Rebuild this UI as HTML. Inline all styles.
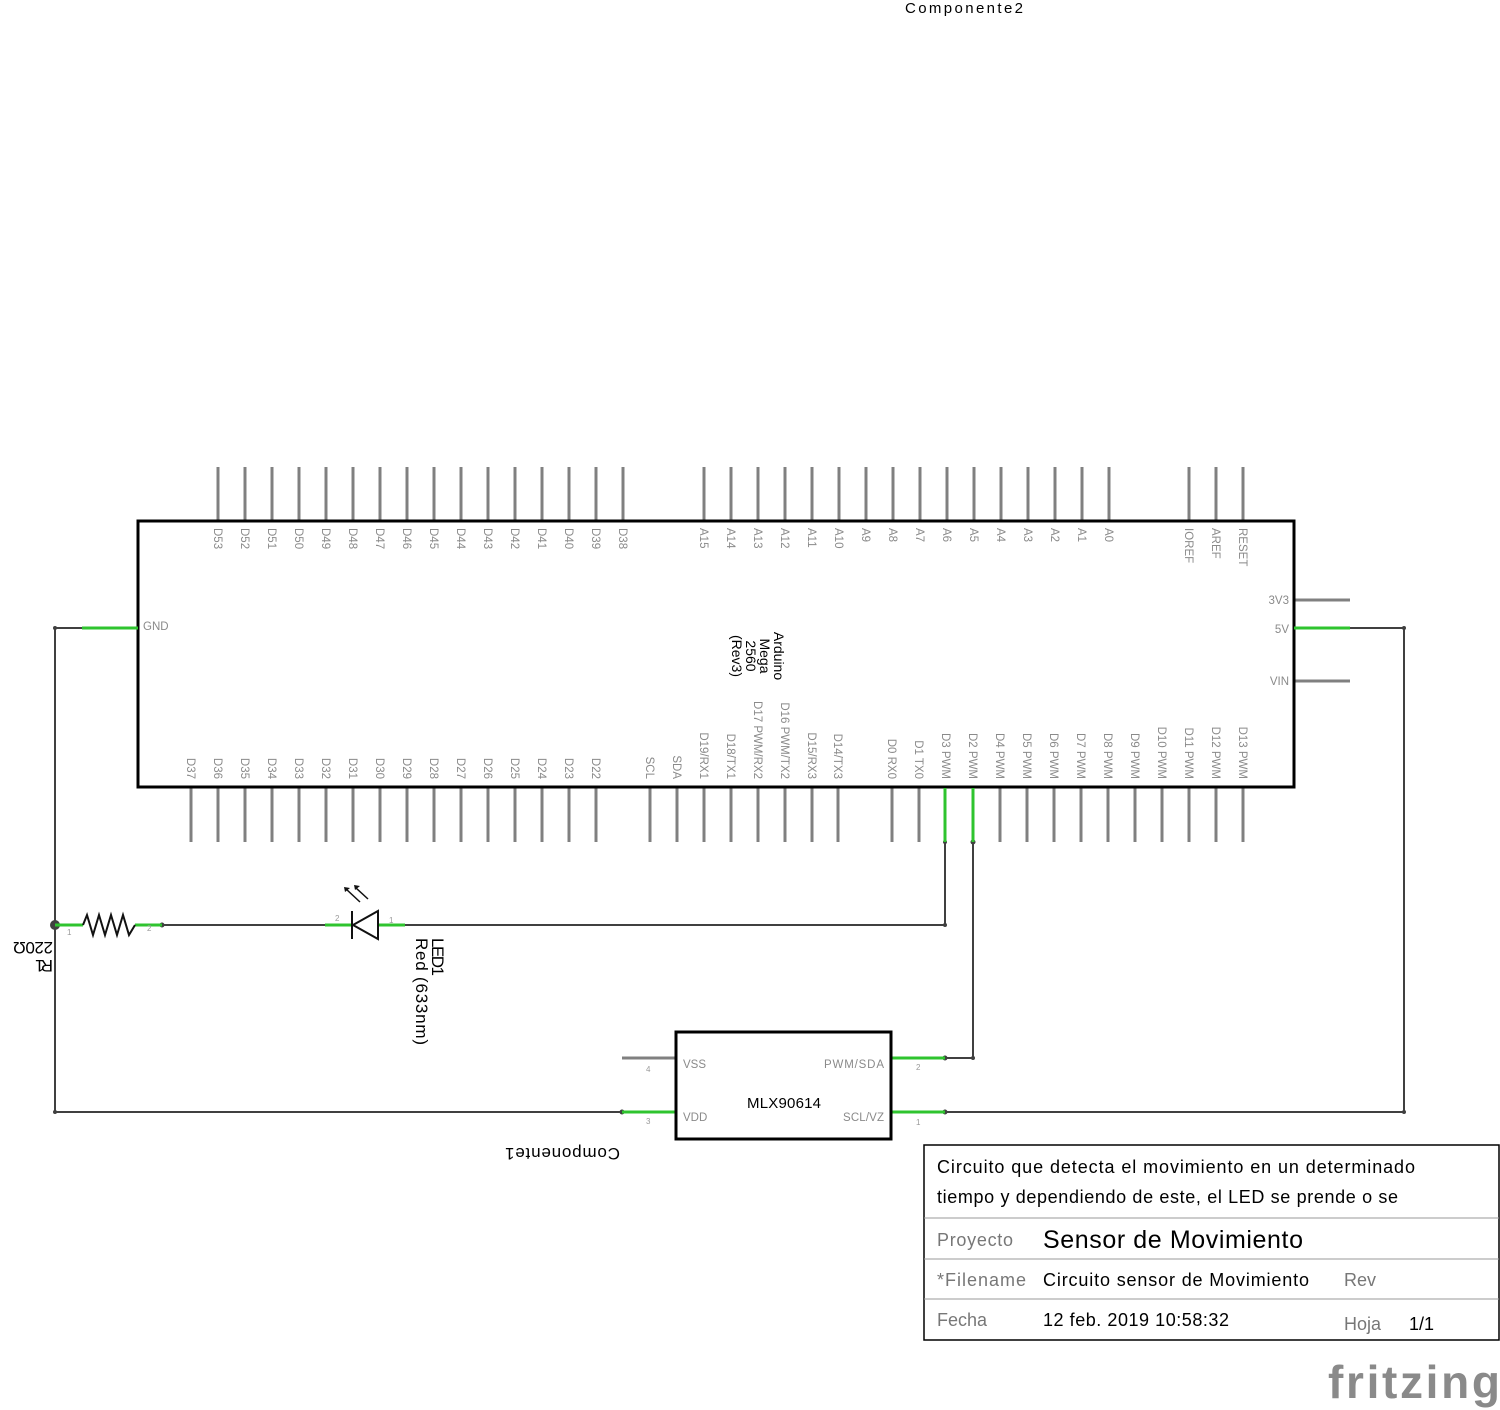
<!DOCTYPE html>
<html><head><meta charset="utf-8"><style>
body{margin:0;background:#fff}
svg{display:block;font-family:"Liberation Sans",sans-serif}
.p{stroke:#808080;stroke-width:3}
.l{font-size:11.5px;fill:#8a8a8a}
.w{stroke:#404040;stroke-width:2;fill:none}
.g{stroke:#2fc42f;stroke-width:3}
</style></head><body>
<svg width="1500" height="1410" viewBox="0 0 1500 1410">
<text x="905" y="13" font-size="15" textLength="118">Componente2</text>
<g class="p">
<path d="M218 467V521M245 467V521M272 467V521M299 467V521M326 467V521M353 467V521M380 467V521M407 467V521M434 467V521M461 467V521M488 467V521M515 467V521M542 467V521M569 467V521M596 467V521M623 467V521"/>
<path d="M704 467V521M731 467V521M758 467V521M785 467V521M812 467V521M839 467V521M866 467V521M893 467V521M920 467V521M947 467V521M974 467V521M1001 467V521M1028 467V521M1055 467V521M1082 467V521M1109 467V521"/>
<path d="M1189 467V521M1216 467V521M1243 467V521"/>
<path d="M191 788V842M218 788V842M245 788V842M272 788V842M299 788V842M326 788V842M353 788V842M380 788V842M407 788V842M434 788V842M461 788V842M488 788V842M515 788V842M542 788V842M569 788V842M596 788V842"/>
<path d="M650 788V842M677 788V842M704 788V842M731 788V842M758 788V842M785 788V842M812 788V842M838 788V842"/>
<path d="M892 788V842M919 788V842M1000 788V842M1027 788V842M1054 788V842M1081 788V842M1108 788V842M1135 788V842M1162 788V842M1189 788V842M1216 788V842M1243 788V842"/>
<path d="M1294 600H1350M1294 681H1350M622 1058H676"/>
</g>
<rect x="138" y="521" width="1156" height="266" fill="none" stroke="#000" stroke-width="3"/>
<g class="l">
<text transform="translate(214,528) rotate(90)">D53</text>
<text transform="translate(241,528) rotate(90)">D52</text>
<text transform="translate(268,528) rotate(90)">D51</text>
<text transform="translate(295,528) rotate(90)">D50</text>
<text transform="translate(322,528) rotate(90)">D49</text>
<text transform="translate(349,528) rotate(90)">D48</text>
<text transform="translate(376,528) rotate(90)">D47</text>
<text transform="translate(403,528) rotate(90)">D46</text>
<text transform="translate(430,528) rotate(90)">D45</text>
<text transform="translate(457,528) rotate(90)">D44</text>
<text transform="translate(484,528) rotate(90)">D43</text>
<text transform="translate(511,528) rotate(90)">D42</text>
<text transform="translate(538,528) rotate(90)">D41</text>
<text transform="translate(565,528) rotate(90)">D40</text>
<text transform="translate(592,528) rotate(90)">D39</text>
<text transform="translate(619,528) rotate(90)">D38</text>
<text transform="translate(700,528) rotate(90)">A15</text>
<text transform="translate(727,528) rotate(90)">A14</text>
<text transform="translate(754,528) rotate(90)">A13</text>
<text transform="translate(781,528) rotate(90)">A12</text>
<text transform="translate(808,528) rotate(90)">A11</text>
<text transform="translate(835,528) rotate(90)">A10</text>
<text transform="translate(862,528) rotate(90)">A9</text>
<text transform="translate(889,528) rotate(90)">A8</text>
<text transform="translate(916,528) rotate(90)">A7</text>
<text transform="translate(943,528) rotate(90)">A6</text>
<text transform="translate(970,528) rotate(90)">A5</text>
<text transform="translate(997,528) rotate(90)">A4</text>
<text transform="translate(1024,528) rotate(90)">A3</text>
<text transform="translate(1051,528) rotate(90)">A2</text>
<text transform="translate(1078,528) rotate(90)">A1</text>
<text transform="translate(1105,528) rotate(90)">A0</text>
<text transform="translate(1185,528) rotate(90)">IOREF</text>
<text transform="translate(1212,528) rotate(90)">AREF</text>
<text transform="translate(1239,528) rotate(90)">RESET</text>
</g>
<g class="l" text-anchor="end">
<text transform="translate(187,779) rotate(90)">D37</text>
<text transform="translate(214,779) rotate(90)">D36</text>
<text transform="translate(241,779) rotate(90)">D35</text>
<text transform="translate(268,779) rotate(90)">D34</text>
<text transform="translate(295,779) rotate(90)">D33</text>
<text transform="translate(322,779) rotate(90)">D32</text>
<text transform="translate(349,779) rotate(90)">D31</text>
<text transform="translate(376,779) rotate(90)">D30</text>
<text transform="translate(403,779) rotate(90)">D29</text>
<text transform="translate(430,779) rotate(90)">D28</text>
<text transform="translate(457,779) rotate(90)">D27</text>
<text transform="translate(484,779) rotate(90)">D26</text>
<text transform="translate(511,779) rotate(90)">D25</text>
<text transform="translate(538,779) rotate(90)">D24</text>
<text transform="translate(565,779) rotate(90)">D23</text>
<text transform="translate(592,779) rotate(90)">D22</text>
<text transform="translate(646,779) rotate(90)">SCL</text>
<text transform="translate(673,779) rotate(90)">SDA</text>
<text transform="translate(700,779) rotate(90)">D19/RX1</text>
<text transform="translate(727,779) rotate(90)">D18/TX1</text>
<text transform="translate(754,779) rotate(90)">D17 PWM/RX2</text>
<text transform="translate(781,779) rotate(90)">D16 PWM/TX2</text>
<text transform="translate(808,779) rotate(90)">D15/RX3</text>
<text transform="translate(834,779) rotate(90)">D14/TX3</text>
<text transform="translate(888,779) rotate(90)">D0 RX0</text>
<text transform="translate(915,779) rotate(90)">D1 TX0</text>
<text transform="translate(942,779) rotate(90)">D3 PWM</text>
<text transform="translate(969,779) rotate(90)">D2 PWM</text>
<text transform="translate(996,779) rotate(90)">D4 PWM</text>
<text transform="translate(1023,779) rotate(90)">D5 PWM</text>
<text transform="translate(1050,779) rotate(90)">D6 PWM</text>
<text transform="translate(1077,779) rotate(90)">D7 PWM</text>
<text transform="translate(1104,779) rotate(90)">D8 PWM</text>
<text transform="translate(1131,779) rotate(90)">D9 PWM</text>
<text transform="translate(1158,779) rotate(90)">D10 PWM</text>
<text transform="translate(1185,779) rotate(90)">D11 PWM</text>
<text transform="translate(1212,779) rotate(90)">D12 PWM</text>
<text transform="translate(1239,779) rotate(90)">D13 PWM</text>
<text x="1289" y="604">3V3</text>
<text x="1289" y="633">5V</text>
<text x="1289" y="685">VIN</text>
</g>
<text class="l" x="143" y="630">GND</text>
<g font-size="14" text-anchor="middle">
<text transform="translate(774,656) rotate(90)">Arduino</text>
<text transform="translate(760,656) rotate(90)">Mega</text>
<text transform="translate(746,656) rotate(90)">2560</text>
<text transform="translate(732,656) rotate(90)">(Rev3)</text>
</g>
<path class="w" d="M82 628H55V1112H622M162 925H325M405 925H945V842M973 842V1058H945M945 1112H1404V628H1350"/>
<circle cx="55" cy="925" r="5" fill="#404040"/>
<g fill="#404040"><circle cx="162" cy="925" r="2.5"/><circle cx="945" cy="925" r="2"/><circle cx="945" cy="842" r="2"/><circle cx="973" cy="842" r="2.5"/><circle cx="973" cy="1058" r="2"/><circle cx="1404" cy="628" r="2"/><circle cx="1404" cy="1112" r="2"/><circle cx="55" cy="628" r="2"/><circle cx="55" cy="1112" r="2"/><circle cx="622" cy="1112" r="2.5"/><circle cx="945" cy="1112" r="2.5"/><circle cx="945" cy="1058" r="2.5"/></g>
<g class="g"><path d="M82 628H138M1294 628H1350M945 788V842M973 788V842M55 925H83M135 925H162M325 925H352M378 925H405M622 1112H676M891 1058H945M891 1112H945"/></g>
<path d="M83 925L87 915L93 935L99 915L105 935L111 915L117 935L123 915L129 935L135 925" fill="none" stroke="#111" stroke-width="2"/>
<text x="67" y="935" font-size="8" fill="#999">1</text><text x="147" y="931" font-size="8" fill="#999">2</text>
<path d="M352 911V939M378 911V939L353 925Z" fill="none" stroke="#111" stroke-width="2"/>
<path d="M360 902L346 889M368 899L356 888" stroke="#111" stroke-width="1.5"/>
<path d="M344 887l6 1l-5 4zM354 885l6 1l-5 4z" fill="#111"/>
<text x="335" y="921" font-size="8" fill="#999">2</text><text x="389" y="923" font-size="8" fill="#999">1</text>
<g font-size="17">
<text transform="translate(432,938) rotate(90)" textLength="38">LED1</text>
<text transform="translate(416,938) rotate(90)" textLength="107">Red (633nm)</text>
<text transform="translate(53,942) rotate(180)" textLength="40">220Ω</text>
<text transform="translate(53,960) rotate(180)" textLength="18">R1</text>
<text transform="translate(620,1148) rotate(180)" textLength="115">Componente1</text>
</g>
<rect x="676" y="1032" width="215" height="107" fill="none" stroke="#000" stroke-width="3"/>
<g class="l" font-size="12"><text x="683" y="1068">VSS</text><text x="683" y="1121">VDD</text>
<text x="884" y="1068" text-anchor="end" textLength="60">PWM/SDA</text><text x="884" y="1121" text-anchor="end" textLength="41">SCL/VZ</text></g>
<g font-size="8" fill="#999"><text x="646" y="1072">4</text><text x="646" y="1124">3</text><text x="916" y="1070">2</text><text x="916" y="1125">1</text></g>
<text x="747" y="1108" font-size="15" textLength="74">MLX90614</text>
<rect x="924" y="1145" width="575" height="195" fill="none" stroke="#000" stroke-width="1.5"/>
<path d="M924 1218H1499M924 1259H1499M924 1299H1499" stroke="#999" stroke-width="1"/>
<g font-size="18">
<text x="937" y="1173" textLength="478">Circuito que detecta el movimiento en un determinado</text>
<text x="937" y="1203" textLength="461">tiempo y dependiendo de este, el LED se prende o se</text>
<text x="937" y="1246" fill="#777" textLength="76">Proyecto</text>
<text x="1043" y="1248" font-size="25" textLength="260">Sensor de Movimiento</text>
<text x="937" y="1286" fill="#777" textLength="89">*Filename</text>
<text x="1043" y="1286" textLength="266">Circuito sensor de Movimiento</text>
<text x="1344" y="1286" fill="#777">Rev</text>
<text x="937" y="1326" fill="#777" textLength="50">Fecha</text>
<text x="1043" y="1326" textLength="186">12 feb. 2019 10:58:32</text>
<text x="1344" y="1330" fill="#777">Hoja</text>
<text x="1409" y="1330">1/1</text>
</g>
<text x="1328" y="1398" font-size="46" fill="#8a8a8a" font-weight="bold" textLength="172">fritzing</text>
</svg>
</body></html>
